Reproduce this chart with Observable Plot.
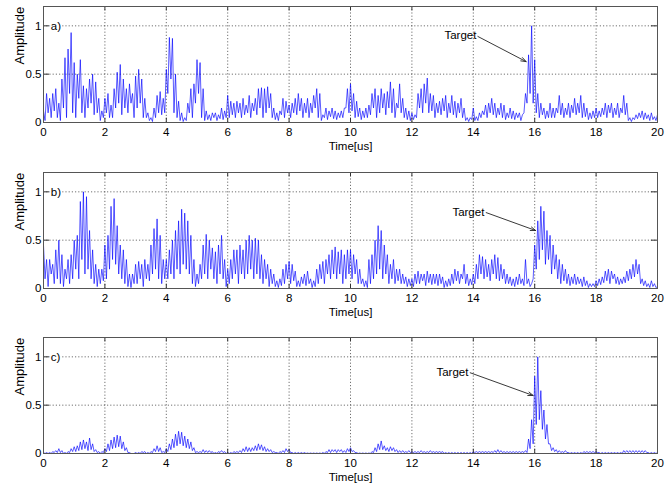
<!DOCTYPE html>
<html><head><meta charset="utf-8">
<script src="https://cdn.jsdelivr.net/npm/d3@7"></script>
<script src="https://cdn.jsdelivr.net/npm/@observablehq/plot@0.6"></script>
<style>body{margin:0;background:#fff}#wrap{position:relative;width:670px;height:485px}#wrap svg{position:absolute;left:0}</style>
</head><body><div id="wrap"></div>
<script>
const timeTicks = [0,2,4,6,8,10,12,14,16,18,20];
const ampTicks = [0,0.5,1];
const panelLabels = ["a)","b)","c)"];
// amplitude samples: peaks at t = 0,0.1,...,20 ; troughs at t = 0.05,...,19.95
const aPeaks = [
0.12,0.3,0.25,0.3,0.35,0.2,0.45,0.67,0.76,0.93,
0.62,0.5,0.65,0.38,0.35,0.45,0.5,0.42,0.25,0.12,
0.25,0.3,0.18,0.35,0.52,0.6,0.45,0.35,0.4,0.3,
0.48,0.55,0.45,0.25,0.1,0.05,0.15,0.28,0.32,0.25,
0.55,0.88,0.87,0.5,0.22,0.1,0.05,0.2,0.35,0.4,
0.65,0.62,0.35,0.12,0.08,0.1,0.1,0.08,0.15,0.12,
0.28,0.22,0.2,0.22,0.2,0.25,0.18,0.28,0.2,0.25,
0.35,0.36,0.35,0.37,0.3,0.15,0.1,0.12,0.25,0.22,
0.18,0.2,0.25,0.3,0.25,0.2,0.25,0.2,0.28,0.35,
0.3,0.08,0.15,0.12,0.15,0.12,0.1,0.12,0.15,0.35,
0.4,0.3,0.22,0.15,0.12,0.15,0.18,0.3,0.35,0.28,
0.35,0.3,0.32,0.42,0.35,0.2,0.4,0.25,0.15,0.12,
0.1,0.08,0.3,0.35,0.4,0.46,0.3,0.28,0.2,0.22,
0.25,0.28,0.2,0.28,0.22,0.2,0.25,0.15,0.05,0.05,
0.15,0.06,0.1,0.12,0.18,0.2,0.25,0.2,0.15,0.2,
0.18,0.1,0.15,0.12,0.1,0.1,0.08,0.3,0.7,1.0,
0.65,0.3,0.2,0.15,0.12,0.2,0.15,0.15,0.28,0.2,
0.15,0.2,0.18,0.25,0.2,0.28,0.2,0.15,0.1,0.12,
0.15,0.12,0.15,0.2,0.18,0.2,0.15,0.2,0.15,0.28,
0.2,0.05,0.05,0.08,0.1,0.12,0.1,0.08,0.1,0.06,
0.08];
const aTroughs = [
0.02,0.1,0.05,0.12,0.05,0.02,0.15,0.05,0.3,0.1,
0.05,0.25,0.1,0.05,0.15,0.2,0.08,0.1,0.02,0.05,
0.1,0.05,0.05,0.15,0.2,0.08,0.15,0.1,0.2,0.05,
0.15,0.2,0.05,0.05,0.02,0.01,0.05,0.1,0.08,0.1,
0.3,0.45,0.1,0.05,0.02,0.01,0.02,0.1,0.05,0.2,
0.3,0.05,0.02,0.03,0.02,0.05,0.02,0.04,0.03,0.05,
0.05,0.08,0.05,0.1,0.05,0.08,0.1,0.05,0.12,0.08,
0.15,0.05,0.1,0.15,0.05,0.03,0.02,0.08,0.05,0.1,
0.05,0.1,0.08,0.12,0.05,0.1,0.05,0.1,0.15,0.05,
0.02,0.05,0.03,0.06,0.04,0.03,0.05,0.05,0.15,0.1,
0.12,0.05,0.06,0.03,0.05,0.05,0.08,0.15,0.05,0.1,
0.15,0.08,0.15,0.1,0.05,0.15,0.1,0.05,0.03,0.02,
0.03,0.05,0.15,0.1,0.2,0.1,0.12,0.05,0.1,0.08,
0.12,0.05,0.1,0.08,0.05,0.1,0.05,0.02,0.01,0.03,
0.02,0.02,0.05,0.08,0.05,0.1,0.08,0.05,0.08,0.05,
0.03,0.05,0.04,0.03,0.05,0.02,0.1,0.2,0.3,0.2,
0.1,0.05,0.08,0.04,0.05,0.05,0.05,0.1,0.08,0.05,
0.08,0.05,0.1,0.08,0.1,0.05,0.06,0.03,0.04,0.05,
0.05,0.06,0.08,0.05,0.1,0.05,0.08,0.05,0.1,0.08,
0.02,0.01,0.03,0.04,0.05,0.03,0.04,0.02,0.03,0.02];
const bPeaks = [
0.45,0.3,0.3,0.25,0.4,0.5,0.35,0.2,0.3,0.35,
0.5,0.55,0.9,1.0,0.95,0.6,0.4,0.25,0.2,0.2,
0.45,0.55,0.85,0.93,0.65,0.45,0.4,0.3,0.15,0.15,
0.25,0.28,0.25,0.3,0.25,0.45,0.62,0.72,0.55,0.3,
0.3,0.4,0.5,0.6,0.7,0.82,0.78,0.7,0.55,0.3,
0.15,0.25,0.45,0.56,0.5,0.42,0.38,0.45,0.55,0.3,
0.2,0.3,0.4,0.4,0.45,0.4,0.5,0.55,0.5,0.52,
0.5,0.35,0.3,0.25,0.2,0.15,0.08,0.1,0.2,0.25,
0.28,0.25,0.18,0.08,0.12,0.15,0.18,0.1,0.08,0.2,
0.25,0.28,0.3,0.35,0.4,0.43,0.38,0.4,0.35,0.4,
0.4,0.35,0.3,0.2,0.1,0.08,0.3,0.35,0.5,0.65,
0.6,0.45,0.35,0.25,0.3,0.2,0.2,0.15,0.12,0.1,
0.1,0.15,0.18,0.15,0.15,0.18,0.15,0.15,0.15,0.15,
0.12,0.08,0.1,0.15,0.2,0.18,0.15,0.25,0.15,0.1,
0.15,0.25,0.35,0.33,0.3,0.25,0.3,0.35,0.32,0.25,
0.2,0.15,0.12,0.1,0.12,0.15,0.1,0.3,0.1,0.05,
0.45,0.7,0.85,0.8,0.6,0.55,0.45,0.35,0.3,0.25,
0.2,0.15,0.12,0.15,0.12,0.1,0.12,0.08,0.05,0.05,
0.08,0.1,0.12,0.18,0.2,0.18,0.15,0.12,0.1,0.12,
0.18,0.2,0.25,0.3,0.25,0.1,0.08,0.05,0.08,0.05,
0.02];
const bTroughs = [
0.1,0.02,0.15,0.05,0.1,0.05,0.02,0.1,0.05,0.1,
0.2,0.1,0.3,0.15,0.2,0.1,0.05,0.02,0.05,0.08,
0.1,0.2,0.3,0.25,0.15,0.1,0.05,0.02,0.01,0.05,
0.05,0.1,0.02,0.1,0.08,0.15,0.2,0.1,0.05,0.1,
0.1,0.15,0.1,0.2,0.15,0.25,0.2,0.15,0.05,0.02,
0.05,0.1,0.15,0.1,0.2,0.1,0.05,0.15,0.1,0.02,
0.05,0.1,0.15,0.05,0.15,0.1,0.15,0.2,0.1,0.15,
0.1,0.05,0.1,0.02,0.05,0.02,0.01,0.03,0.05,0.1,
0.05,0.08,0.02,0.02,0.05,0.03,0.05,0.01,0.02,0.05,
0.1,0.05,0.15,0.1,0.15,0.1,0.15,0.05,0.1,0.15,
0.1,0.15,0.05,0.05,0.02,0.01,0.05,0.1,0.15,0.2,
0.1,0.15,0.05,0.1,0.05,0.08,0.05,0.05,0.02,0.03,
0.02,0.05,0.05,0.08,0.03,0.06,0.04,0.05,0.03,0.05,
0.01,0.02,0.03,0.05,0.08,0.05,0.1,0.05,0.03,0.04,
0.05,0.1,0.15,0.1,0.12,0.08,0.15,0.1,0.08,0.1,
0.05,0.05,0.03,0.02,0.04,0.05,0.03,0.05,0.02,0.1,
0.2,0.3,0.4,0.25,0.3,0.15,0.2,0.1,0.05,0.08,
0.05,0.03,0.05,0.04,0.05,0.02,0.03,0.01,0.02,0.02,
0.03,0.04,0.06,0.08,0.05,0.1,0.05,0.04,0.05,0.06,
0.08,0.1,0.12,0.15,0.05,0.03,0.02,0.01,0.02,0.01];
const cPeaks = [
0.01,0.01,0.01,0.02,0.03,0.05,0.03,0.01,0.02,0.05,
0.07,0.08,0.12,0.14,0.12,0.16,0.1,0.04,0.02,0.02,
0.05,0.1,0.14,0.17,0.19,0.18,0.12,0.06,0.01,0.0,
0.01,0.01,0.02,0.02,0.01,0.02,0.05,0.08,0.06,0.02,
0.05,0.1,0.15,0.2,0.23,0.22,0.18,0.15,0.12,0.06,
0.02,0.02,0.04,0.03,0.03,0.02,0.01,0.02,0.03,0.02,
0.01,0.01,0.02,0.02,0.03,0.05,0.07,0.06,0.06,0.08,
0.1,0.09,0.07,0.05,0.04,0.02,0.01,0.02,0.03,0.05,
0.04,0.01,0.01,0.01,0.01,0.01,0.005,0.005,0.005,0.005,
0.005,0.01,0.02,0.04,0.04,0.04,0.04,0.04,0.03,0.05,
0.06,0.03,0.01,0.005,0.005,0.005,0.005,0.02,0.06,0.1,
0.13,0.08,0.06,0.07,0.06,0.04,0.03,0.03,0.02,0.03,
0.02,0.02,0.02,0.03,0.02,0.02,0.03,0.02,0.02,0.02,
0.02,0.01,0.01,0.01,0.01,0.01,0.01,0.01,0.01,0.01,
0.02,0.02,0.02,0.02,0.02,0.02,0.02,0.03,0.04,0.03,
0.02,0.02,0.02,0.02,0.02,0.02,0.02,0.03,0.15,0.35,
0.8,1.0,0.65,0.45,0.3,0.1,0.06,0.04,0.03,0.02,
0.03,0.01,0.01,0.01,0.01,0.01,0.02,0.02,0.02,0.02,
0.02,0.01,0.01,0.01,0.01,0.01,0.01,0.01,0.01,0.03,
0.03,0.03,0.03,0.03,0.03,0.03,0.03,0.01,0.01,0.01,
0.01];
const cTroughs = [
0,0,0,0.01,0.01,0.01,0,0,0.01,0.02,
0.02,0.03,0.04,0.05,0.03,0.04,0.02,0.01,0,0.01,
0.02,0.03,0.05,0.06,0.07,0.05,0.03,0.01,0,0,
0,0,0.01,0,0,0.01,0.02,0.02,0.01,0.01,
0.02,0.04,0.06,0.08,0.1,0.08,0.06,0.05,0.03,0.01,
0.01,0.01,0.01,0.01,0.01,0,0,0.01,0.01,0,
0,0,0.01,0.01,0.01,0.02,0.02,0.02,0.03,0.03,
0.04,0.03,0.02,0.02,0.01,0.01,0,0.01,0.01,0.02,
0.01,0,0,0,0,0,0,0,0,0,
0,0,0.01,0.01,0.02,0.01,0.02,0.01,0.01,0.02,
0.02,0.01,0,0,0,0,0,0.01,0.02,0.04,
0.04,0.03,0.02,0.03,0.02,0.01,0.01,0.01,0.01,0.01,
0.01,0.01,0.01,0.01,0.01,0.01,0.01,0.01,0.01,0.01,
0,0,0,0,0,0,0,0,0,0,
0.01,0.01,0.01,0.01,0.01,0.01,0.01,0.01,0.01,0.01,
0.01,0.01,0.01,0.01,0.01,0.01,0.01,0.01,0.05,0.1,
0.3,0.35,0.25,0.15,0.1,0.03,0.02,0.01,0.01,0.01,
0.01,0,0,0,0,0,0.01,0.01,0.01,0.01,
0.01,0,0,0,0,0,0,0,0,0.01,
0.01,0.01,0.01,0.01,0.01,0.01,0.01,0,0,0];

const font = "'Liberation Sans', Arial, sans-serif";

function panel(peaks, troughs, label, ann) {
  const pts = [];
  for (let i = 0; i < peaks.length; i++) {
    pts.push({t: i * 0.1, v: peaks[i]});
    if (i < troughs.length) pts.push({t: i * 0.1 + 0.05, v: troughs[i]});
  }
  return Plot.plot({
    width: 670, height: 160,
    marginLeft: 43, marginRight: 13, marginTop: 6, marginBottom: 38,
    style: {fontFamily: font, fontSize: "11.5px", background: "white", overflow: "visible"},
    x: {domain: [0, 20]},
    y: {domain: [0, 1.2]},
    marks: [
      Plot.gridX(timeTicks.slice(1, -1), {stroke: "#333", strokeOpacity: 1, strokeWidth: 0.7, strokeDasharray: "1.2,2"}),
      Plot.gridY(ampTicks.slice(1), {stroke: "#333", strokeOpacity: 1, strokeWidth: 0.7, strokeDasharray: "1.2,2"}),
      Plot.line(pts, {x: "t", y: "v", stroke: "#0000ff", strokeWidth: 0.65}),
      Plot.ruleX(timeTicks, {y1: 0, y2: 0.045, stroke: "#333"}),
      Plot.ruleX(timeTicks, {y1: 1.2, y2: 1.155, stroke: "#333"}),
      Plot.ruleY(ampTicks, {x1: 0, x2: 0.2, stroke: "#333"}),
      Plot.ruleY(ampTicks, {x1: 20, x2: 19.8, stroke: "#333"}),
      Plot.frame({stroke: "#555"}),
      Plot.axisX(timeTicks, {tickSize: 0, tickPadding: 5, label: null, fontSize: 11.5}),
      Plot.axisY(ampTicks, {tickSize: 0, tickPadding: 2, label: null, fontSize: 11.5, tickFormat: d => String(d)}),
      Plot.text([label], {x: 0.24, y: 1.0, text: d => d, textAnchor: "start", fontSize: 11.5, stroke: "white", strokeWidth: 3, fill: "black"}),
      Plot.text(["Target"], {x: ann.tx, y: ann.ty, text: d => d, textAnchor: "end", fontSize: 11.5}),
      Plot.arrow([ann], {x1: "x1", y1: "y1", x2: "x2", y2: "y2", stroke: "#222", strokeWidth: 0.9, headLength: 9, headAngle: 40}),
      Plot.text(["Time[us]"], {frameAnchor: "bottom", dy: 27, text: d => d, fontSize: 11.5}),
      Plot.text(["Amplitude"], {frameAnchor: "left", dx: -24, rotate: -90, text: d => d, fontSize: 13})
    ]
  });
}

const wrap = document.getElementById("wrap");
const pa = panel(aPeaks, aTroughs, panelLabels[0], {tx: 14.1, ty: 0.9, x1: 14.15, y1: 0.89, x2: 15.72, y2: 0.63});
const pb = panel(bPeaks, bTroughs, panelLabels[1], {tx: 14.36, ty: 0.79, x1: 14.42, y1: 0.785, x2: 16.03, y2: 0.6});
const pc = panel(cPeaks, cTroughs, panelLabels[2], {tx: 13.84, ty: 0.84, x1: 13.9, y1: 0.835, x2: 15.95, y2: 0.6});
pa.style.top = "0px"; pb.style.top = "166px"; pc.style.top = "331px";
wrap.append(pa, pb, pc);
</script></body></html>
